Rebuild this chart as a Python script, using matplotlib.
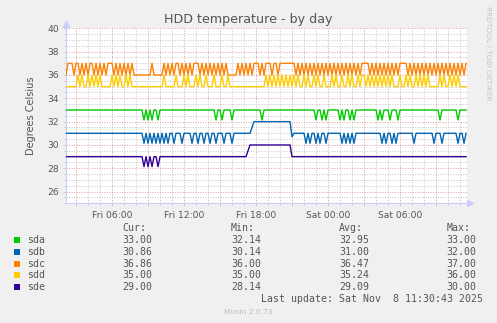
import numpy as np
import matplotlib
matplotlib.use("Agg")
import matplotlib.pyplot as plt
from matplotlib.patches import Rectangle
from matplotlib.ticker import MultipleLocator

# ================== DATA ==================
# time axis: hours since Fri 00:00, one sample every 10 minutes
t_start = 2 + 10 / 60
t_step = 10 / 60
n_samples = 201

names = ["sda", "sdb", "sdc", "sdd", "sde"]
colors = ["#00cc00", "#0066b3", "#ff8000", "#ffcc00", "#330099"]

cur_vals = [33.00, 30.86, 36.86, 35.00, 29.00]
min_vals = [32.14, 30.14, 36.00, 35.00, 28.14]
avg_vals = [32.95, 31.00, 36.47, 35.24, 29.09]
max_vals = [33.00, 32.00, 37.00, 36.00, 30.00]

# sda: 33 with short dips (sample indices)
sda_base = 33.0
sda_dip = 32.14
sda_dips = [39, 41, 43, 46, 75, 78, 83, 98, 125, 128, 130, 137, 139, 142, 144,
            156, 158, 162, 166, 187, 196]

# sdb: 31 with dips, a plateau at 32 in the evening
sdb_base = 31.0
sdb_dip = 30.14
sdb_dips = [39, 41, 43, 45, 47, 49, 51, 54, 58, 63, 66, 69, 72, 75, 79, 83,
            120, 122, 125, 127, 130, 138, 140, 142, 144, 158, 160, 163, 165,
            174, 184, 188, 196, 199]
sdb_steps = {93: 31.5, 94: 32, 95: 32, 96: 32, 97: 32, 98: 32, 99: 32, 100: 32,
             101: 32, 102: 32, 103: 32, 104: 32, 105: 32, 106: 32, 107: 32,
             108: 32, 109: 32, 110: 32, 111: 32, 112: 32, 113: 30.7}

# sdc: '6' = 36, '7' = 37
sdc_levels = {"6": 36.0, "7": 37.0}
sdc_str = (
    "6" "777" "6" "77" "67676" "77" "6767676" "777" "67676767676"
    "66666666" "7" "66666"
    "76767677" "67676767" "77676767" "67676767" "66"
    "666" "76767676" "777" "6767" "77677" "6" "77777777"
    "6767676767676767676767676767676767"
    "777" "676767676767676" "777"
    "7676767676767676767676767676767"
)

# sdd: '5' = 35, '6' = 36
sdd_levels = {"5": 35.0, "6": 36.0}
sdd_str = (
    "555555" "6565" "5" "656" "56565" "5555" "65656" "55" "656"
    "5555555555555555" "6" "55555" "6" "555" "6565" "55" "6565" "5"
    "65" "55" "65" "55" "6" "55" "6"
    "555555555555555555"
    "656565656565656"
    "5655656556565565556565565565655656"
    "656565656565656"
    "555655"
    "6565565656565555565655656565555"
)

# sde: 29 with a few dips and a plateau at 30
sde_base = 29.0
sde_dip = 28.14
sde_dips = [39, 41, 43, 46]
sde_steps = {91: 29.5, 92: 30, 93: 30, 94: 30, 95: 30, 96: 30, 97: 30, 98: 30,
             99: 30, 100: 30, 101: 30, 102: 30, 103: 30, 104: 30, 105: 30,
             106: 30, 107: 30, 108: 30, 109: 30, 110: 30, 111: 30, 112: 30}

xtick_pos = [6, 12, 18, 24, 30]
xtick_labels = ["Fri 06:00", "Fri 12:00", "Fri 18:00", "Sat 00:00", "Sat 06:00"]
ytick_pos = [26, 28, 30, 32, 34, 36, 38, 40]

# ================== BUILD SERIES ==================
t = t_start + t_step * np.arange(n_samples)


def sparse_series(base, dip, dips, steps):
    y = np.full(n_samples, base)
    for k, v in steps.items():
        y[k] = v
    y[dips] = dip
    return y


sda = sparse_series(sda_base, sda_dip, sda_dips, {})
sdb = sparse_series(sdb_base, sdb_dip, sdb_dips, sdb_steps)
sdc = np.array([sdc_levels[c] for c in sdc_str])
sdd = np.array([sdd_levels[c] for c in sdd_str])
sde = sparse_series(sde_base, sde_dip, sde_dips, sde_steps)
series = [sda, sdb, sdc, sdd, sde]

# ================== FIGURE ==================
W, H = 497, 323
fig = plt.figure(figsize=(W / 100, H / 100), dpi=100)
fig.patch.set_facecolor("#f0f0f0")

left, right, top, bottom = 65.7, 466.7, 28.3, 203.3
ax = fig.add_axes([left / W, 1 - bottom / H, (right - left) / W, (bottom - top) / H])
ax.set_facecolor("white")

for y, c in zip(series, colors):
    ax.plot(t[:len(y)], y, color=c, lw=1.0, zorder=3)

x_lo = 2.14
x_hi = 2.14 + (right - left) / 12

# grid: red every 3 h / 2 deg, gray every 1 h / 0.5 deg
ax.xaxis.set_major_locator(MultipleLocator(3))
ax.xaxis.set_minor_locator(MultipleLocator(1))
ax.yaxis.set_minor_locator(MultipleLocator(0.5))
ax.grid(which="minor", color="#c4c4c4", lw=0.7, ls=(0, (1, 1.6)), zorder=0)
ax.grid(which="major", color="#e29a9a", lw=0.7, ls=(0, (1, 1.6)), zorder=1)

ax.set_xlim(x_lo, x_hi)
maj = [m for m in ax.get_xticks() if x_lo <= m <= x_hi]
ax.set_xticks(maj)
ax.set_xticklabels([xtick_labels[xtick_pos.index(int(round(m)))] if int(round(m)) in xtick_pos else ""
                    for m in maj])
ax.set_xlim(x_lo, x_hi)
ax.set_yticks(ytick_pos)
ax.set_ylim(25, 40)

ax.tick_params(which="both", length=2, color="#c8c8c8", width=0.6,
               labelsize=6.6, labelcolor="#555555")
ax.tick_params(axis="x", pad=3.5)
ax.tick_params(axis="y", pad=3)
ax.tick_params(which="minor", length=1.5)

for s in ["top", "right"]:
    ax.spines[s].set_visible(False)
for s in ["left", "bottom"]:
    ax.spines[s].set_color("#ccccff")
    ax.spines[s].set_linewidth(0.8)

# axis arrows
ax.plot([0], [1.022], marker="^", ms=4, color="#ccccff", transform=ax.transAxes, clip_on=False)
ax.plot([1.009], [0], marker=">", ms=4, color="#ccccff", transform=ax.transAxes, clip_on=False)

ax.set_ylabel("Degrees Celsius", fontsize=7.0, color="#555555", labelpad=8)

# ================== TEXTS ==================
def px_text(x, y, s, **kw):
    fig.text(x / W, 1 - y / H, s, **kw)


px_text(248, 20, "HDD temperature - by day", ha="center", va="center",
        fontsize=9.1, color="#555555")
px_text(488, 53, "RRDTOOL / TOBI OETIKER", ha="center", va="center",
        rotation=270, fontsize=5.3, color="#c4c4c4")

mono = dict(fontfamily="DejaVu Sans Mono", fontsize=7.1, color="#555555", va="center")
col_x = [122.3, 231, 339, 446.7]
for x, h in zip(col_x, ["Cur:", "Min:", "Avg:", "Max:"]):
    px_text(x, 227.7, h, ha="left", **mono)

row_y = [240, 251.8, 263.6, 275.4, 287.4]
for i, name in enumerate(names):
    y = row_y[i]
    fig.add_artist(Rectangle((14 / W, 1 - (y + 3) / H), 6 / W, 6 / H,
                             transform=fig.transFigure, fc=colors[i], ec="none"))
    px_text(26.7, y, name, ha="left", **mono)
    for x, v in zip(col_x, [cur_vals[i], min_vals[i], avg_vals[i], max_vals[i]]):
        px_text(x, y, f"{v:.2f}", ha="left", **mono)

px_text(482.7, 299.3, "Last update: Sat Nov  8 11:30:43 2025", ha="right", **mono)
px_text(248, 311.7, "Munin 2.0.73", ha="center", va="center", fontsize=5.3, color="#bbbbbb")

fig.savefig("out.png", dpi=100, facecolor=fig.get_facecolor())
